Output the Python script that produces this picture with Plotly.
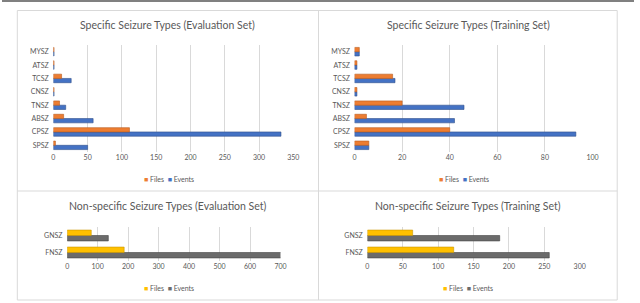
import plotly.graph_objects as go

# ---- data ----
specific_types = ["SPSZ", "CPSZ", "ABSZ", "TNSZ", "CNSZ", "TCSZ", "ATSZ", "MYSZ"]
eval_files = [3, 111, 15, 9, 1, 12, 1, 1]
eval_events = [50, 332, 58, 18, 1, 26, 1, 1]
train_files = [6, 40, 5, 20, 1, 16, 1, 2]
train_events = [6, 93, 42, 46, 1, 17, 1, 2]

nonspecific_types = ["FNSZ", "GNSZ"]
ns_eval_files = [187, 79]
ns_eval_events = [705, 135]
ns_train_files = [122, 64]
ns_train_events = [257, 187]

series_names = ["Files", "Events"]

W, H = 640, 303
FONT = "Lato, Open Sans, sans-serif"
TXT = "#595959"
GRID = "#d9d9d9"
ORANGE, BLUE = "#ED7D31", "#4472C4"
YELLOW, GREY = "#FFC000", "#6b6b6b"


def px_x(p):
    return p / W


def px_y(p):
    return 1 - p / H


fig = go.Figure()

panels = [
    ("", specific_types, eval_files, eval_events, ORANGE, BLUE, 52, 295, 45, 152, [0, 350], 50, (169, 179)),
    ("2", specific_types, train_files, train_events, ORANGE, BLUE, 357, 598, 45, 152, [0, 100], 20, (468, 179)),
    ("3", nonspecific_types, ns_eval_files, ns_eval_events, YELLOW, GREY, 66, 282, 227, 261, [0, 700], 100, (169, 288)),
    ("4", nonspecific_types, ns_train_files, ns_train_events, YELLOW, GREY, 370, 585, 227, 261, [0, 300], 50, (472, 288)),
]

layout = dict(
    width=W, height=H,
    margin=dict(l=0, r=0, t=0, b=0),
    paper_bgcolor="white", plot_bgcolor="white",
    barmode="group", bargap=0.36, bargroupgap=0,
    font=dict(family=FONT, color=TXT, size=7),
    showlegend=False,
)

annotations = []
for suf, cats, files, events, fcol, ecol, x0, x1, yt, yb, rng, dt, lpos in panels:
    xa = "x" + suf
    ya = "y" + suf
    fig.add_trace(go.Bar(
        y=cats, x=events, orientation="h", name=series_names[1],
        marker=dict(color=ecol, line=dict(color="#2f4f8a" if ecol == BLUE else "#444444", width=0.6)),
        xaxis=xa, yaxis=ya,
    ))
    fig.add_trace(go.Bar(
        y=cats, x=files, orientation="h", name=series_names[0],
        marker=dict(color=fcol, line=dict(color="#b85a1c" if fcol == ORANGE else "#c99500", width=0.6)),
        xaxis=xa, yaxis=ya,
    ))
    layout["xaxis" + suf] = dict(
        domain=[px_x(x0), px_x(x1)], range=rng, dtick=dt, tick0=0,
        showgrid=True, gridcolor=GRID, gridwidth=1, zeroline=False,
        showline=False, ticks="", tickfont=dict(size=7, color=TXT),
        anchor=ya, fixedrange=True,
    )
    layout["yaxis" + suf] = dict(
        domain=[px_y(yb), px_y(yt)], type="category",
        showgrid=False, zeroline=False, showline=False, ticks="",
        tickfont=dict(size=7, color=TXT), anchor=xa, ticksuffix="  ",
        fixedrange=True,
    )
    legend_text = (
        f"<span style='color:{fcol}'>■</span> {series_names[0]}  "
        f"<span style='color:{ecol}'>■</span> {series_names[1]}"
    )
    annotations.append(dict(
        text=legend_text, x=px_x(lpos[0]), y=px_y(lpos[1]), xref="paper", yref="paper",
        showarrow=False, xanchor="center", yanchor="middle",
        font=dict(family=FONT, size=7, color=TXT),
    ))

titles = [
    ("Specific Seizure Types (Evaluation Set)", 168, 25),
    ("Specific Seizure Types (Training Set)", 472, 25),
    ("Non-specific Seizure Types (Evaluation Set)", 168, 206),
    ("Non-specific Seizure Types (Training Set)", 472, 206),
]
for text, cx, cy in titles:
    annotations.append(dict(
        text=text, x=px_x(cx), y=px_y(cy), xref="paper", yref="paper",
        showarrow=False, xanchor="center", yanchor="middle",
        font=dict(family=FONT, size=10.5, color=TXT),
    ))

layout["annotations"] = annotations

layout["shapes"] = [
    dict(type="line", xref="paper", yref="paper", x0=0, x1=1, y0=px_y(1), y1=px_y(1),
         line=dict(color="#808080", width=2)),
    dict(type="rect", xref="paper", yref="paper", x0=px_x(15.5), x1=px_x(623), y0=px_y(300), y1=px_y(10.5),
         line=dict(color=GRID, width=1)),
    dict(type="line", xref="paper", yref="paper", x0=px_x(320.5), x1=px_x(320.5), y0=px_y(300), y1=px_y(10.5),
         line=dict(color=GRID, width=1)),
    dict(type="line", xref="paper", yref="paper", x0=px_x(15.5), x1=px_x(623), y0=px_y(191), y1=px_y(191),
         line=dict(color=GRID, width=1)),
]

fig.update_layout(**layout)

fig.write_html(
    "out.html",
    config={"displayModeBar": False},
    post_script="document.body.style.margin='0';document.body.style.padding='0';",
)
